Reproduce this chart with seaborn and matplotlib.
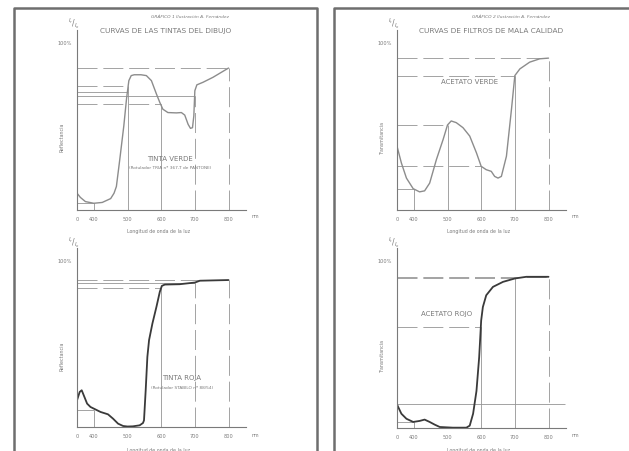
import matplotlib
matplotlib.use("Agg")
import matplotlib.pyplot as plt
from matplotlib.lines import Line2D
import seaborn as sns

# Curve data (wavelength in nm, percentage)
verde_tinta_nm = [350, 360, 375, 400, 425, 450, 460, 467, 477, 489, 497, 504, 511, 520, 540,
                  556, 571, 586, 596, 605, 620, 645, 660, 670, 680, 687, 693, 697, 700, 706,
                  724, 754, 800]
verde_tinta_val = [10, 7.5, 5, 4, 4.5, 6.8, 10, 14, 30, 50, 66, 77, 80, 80.5, 80.5,
                   80, 77, 69, 64, 60, 58, 57.8, 58, 56.5, 51, 48.6, 49, 56, 71, 74.5,
                   76, 79, 84.5]

roja_tinta_nm = [350, 358, 364, 372, 380, 390, 405, 420, 442, 457, 472, 487, 500, 516, 536,
                 546, 549, 554, 559, 564, 574, 586, 596, 602, 611, 655, 700, 715, 800]
roja_tinta_val = [16, 21, 22, 18, 14, 12, 10.5, 9, 7.6, 5, 2, 0.6, 0.3, 0.4, 1,
                  2.4, 4, 22, 42, 52, 62, 72, 81, 84.5, 85.3, 85.5, 86.5, 87.6, 88]

verde_acet_nm = [350, 363, 378, 398, 417, 432, 447, 467, 487, 500, 511, 526, 546, 566, 586,
                 600, 615, 630, 640, 650, 660, 675, 690, 700, 715, 744, 774, 800]
verde_acet_val = [38, 28, 19, 12.7, 10.8, 11.4, 16, 30, 42, 50.6, 53, 52, 49, 44, 34,
                  26, 24, 23, 20, 19, 20, 32, 60, 80, 84, 88, 90, 90.4]

roja_acet_nm = [350, 363, 378, 398, 417, 432, 447, 462, 477, 516, 556, 566, 576, 586, 594,
                600, 605, 615, 635, 665, 700, 734, 800]
roja_acet_val = [14, 8.5, 5.5, 3.6, 4.2, 5, 3.6, 2, 0.6, 0.2, 0.2, 1.4, 8.5, 22, 42,
                 64, 72, 79, 84, 87, 89, 90, 90]

# Guide lines: (level %, end wavelength, style) and (wavelength, top %, style)
verde_tinta_h = [(84.5, 800, "dash"), (74, 500, "dash"), (70, 500, "solid"),
                 (67.7, 700, "solid"), (63, 600, "dash"), (4, 400, "solid")]
verde_tinta_v = [(400, 4, "solid"), (500, 74, "solid"), (600, 63, "solid"),
                 (700, 68, "dash"), (800, 84.5, "dash")]
roja_tinta_h = [(88, 800, "dash"), (86.5, 700, "solid"), (83, 600, "dash"), (10, 400, "solid")]
roja_tinta_v = [(400, 10, "solid"), (600, 83, "solid"), (700, 86.5, "dash"), (800, 88, "dash")]
verde_acet_h = [(90.4, 800, "dash"), (80, 700, "dash"), (50.6, 500, "dash"),
                (26, 600, "dash"), (12.7, 400, "solid")]
verde_acet_v = [(400, 12.7, "solid"), (500, 50.6, "solid"), (600, 26, "solid"),
                (700, 80, "solid"), (800, 90.4, "dash")]
roja_acet_h = [(90, 800, "dash"), (89, 700, "dash"), (60.4, 600, "dash"),
               (14, 850, "solid"), (3.4, 400, "solid")]
roja_acet_v = [(400, 3.4, "solid"), (600, 60.4, "solid"), (700, 89, "solid"), (800, 90, "dash")]

x_ticks = list(range(350, 851, 50))
x_labels = ["0", "400", "", "500", "", "600", "", "700", "", "800", ""]
y_ticks = list(range(0, 101, 10))
y_labels = [""] * 10 + ["100%"]

W, H = 629, 452
GRAY = "#7a7a7a"
LINE = "#949494"
DASH = (0, (24, 7))

sns.set_style("white")
plt.rcParams["font.family"] = ["DejaVu Sans"]

fig = plt.figure(figsize=(W / 100, H / 100), dpi=100)


def ftext(x, y, s, **kw):
    kw.setdefault("color", GRAY)
    kw.setdefault("ha", "center")
    kw.setdefault("va", "center")
    fig.text(x / W, 1 - y / H, s, **kw)


def fline(xs, ys, **kw):
    fig.add_artist(Line2D([x / W for x in xs], [1 - y / H for y in ys],
                          transform=fig.transFigure, **kw))


def panel(x0, y0, y100, nm, val, hl, vl, curve_color, curve_lw):
    sy = (y0 - y100)  # px per 100 %
    px_nm = 33.67 / 100
    width = px_nm * 502
    height = sy * 1.07
    ax = fig.add_axes([x0 / W, 1 - y0 / H, width / W, height / H])
    ax.set_xlim(350, 852)
    ax.set_ylim(0, 107)
    ax.patch.set_alpha(0)
    for s in ["top", "right"]:
        ax.spines[s].set_visible(False)
    for s in ["left", "bottom"]:
        ax.spines[s].set_color(GRAY)
        ax.spines[s].set_linewidth(0.8)
    ax.set_xticks(x_ticks)
    ax.set_xticklabels(x_labels)
    ax.set_yticks(y_ticks)
    ax.set_yticklabels(y_labels)
    ax.tick_params(direction="inout", length=3, width=0.5, colors=GRAY,
                   labelsize=3.6, pad=2.5)
    for lvl, xe, st in hl:
        ax.hlines(lvl, 350, xe, colors=LINE, lw=0.6,
                  linestyles=DASH if st == "dash" else "solid")
    for wl, top, st in vl:
        ax.vlines(wl, 0, top, colors=LINE, lw=0.6,
                  linestyles=DASH if st == "dash" else "solid")
    sns.lineplot(x=nm, y=val, ax=ax, color=curve_color, lw=curve_lw)
    ax.set_xlabel("")
    ax.set_ylabel("")
    return ax


panel(77, 211, 43, verde_tinta_nm, verde_tinta_val, verde_tinta_h, verde_tinta_v, "#8c8c8c", 1.0)
panel(77, 428, 261, roja_tinta_nm, roja_tinta_val, roja_tinta_h, roja_tinta_v, "#3a3a3a", 1.3)
panel(397, 211, 43, verde_acet_nm, verde_acet_val, verde_acet_h, verde_acet_v, "#8c8c8c", 1.0)
panel(397, 429, 261, roja_acet_nm, roja_acet_val, roja_acet_h, roja_acet_v, "#3a3a3a", 1.3)

# page frames
fline([14, 14, 317, 317], [452, 9, 9, 452], color="#6e6e6e", lw=1.8)
fline([334, 334, 629], [452, 9, 9], color="#6e6e6e", lw=1.8)

# headers
ftext(190, 17, "GRÁFICO 1 Ilustración A. Fernández", fontsize=3.2, style="italic")
ftext(166, 31, "CURVAS DE LAS TINTAS DEL DIBUJO", fontsize=5.3)
ftext(511, 17, "GRÁFICO 2 Ilustración A. Fernández", fontsize=3.2, style="italic")
ftext(491, 31, "CURVAS DE FILTROS DE MALA CALIDAD", fontsize=5.3)

# inner labels
ftext(170, 159, "TINTA VERDE", fontsize=5)
ftext(170, 168, "(Rotulador TRIA nº 367-T de PANTONE)", fontsize=3.1)
ftext(182, 378, "TINTA ROJA", fontsize=5)
ftext(182, 388, "(Rotulador STABILO nº 88/54)", fontsize=3.1)
ftext(470, 82, "ACETATO VERDE", fontsize=5)
ftext(447, 314, "ACETATO ROJO", fontsize=5)

# axis titles and units
for x, y, lab, frac in [(77, 24, "Reflectancia", r"$^{I_r}/_{I_o}$"),
                        (77, 243, "Reflectancia", r"$^{I_r}/_{I_o}$"),
                        (397, 24, "Transmitancia", r"$^{I_t}/_{I_o}$"),
                        (397, 243, "Transmitancia", r"$^{I_t}/_{I_o}$")]:
    ftext(x - 3, y, frac, fontsize=5.5)
    ftext(x - 15, y + 113, lab, fontsize=3.4, rotation=90)
    ftext(x + 178, y + 193, "nm", fontsize=3.4)
    ftext(x + 82, y + 208, "Longitud de onda de la luz", fontsize=3.4)

fig.savefig("out.png", dpi=100)
